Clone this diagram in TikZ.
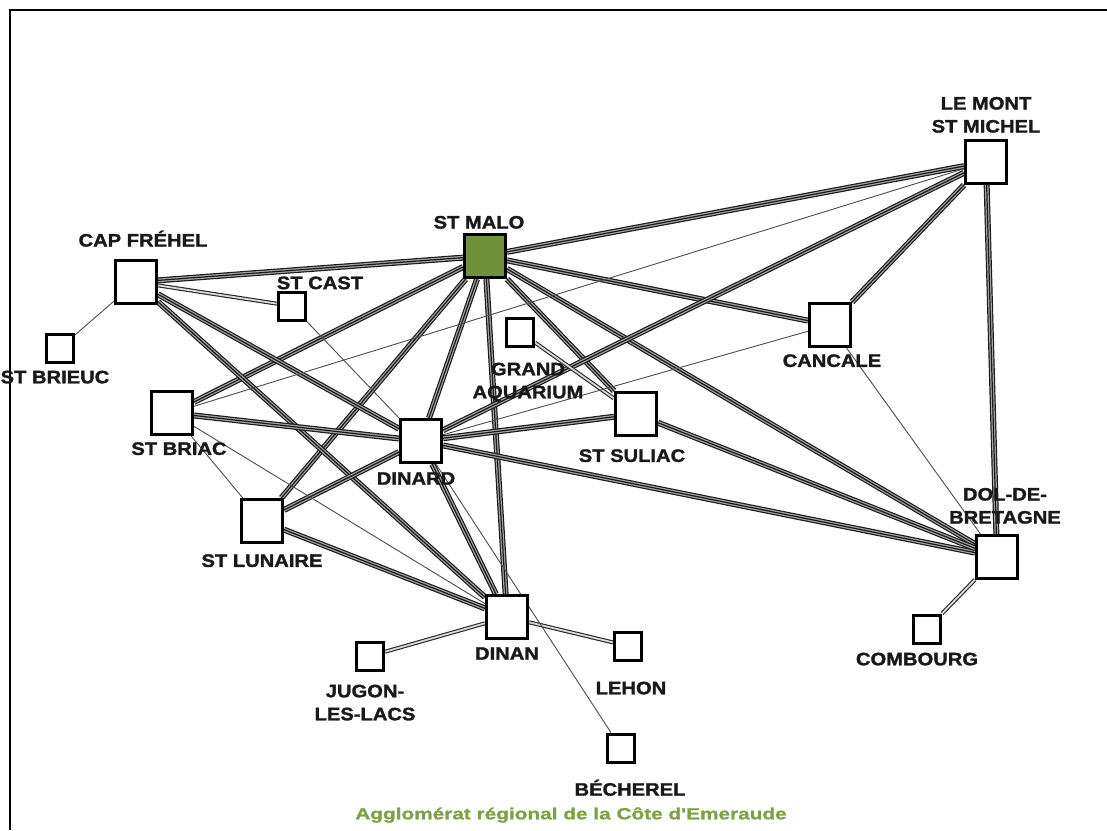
\documentclass[tikz,border=0pt]{standalone}
\usepackage{fontspec}
\newfontfamily\labfont[FakeStretch=1.12,FakeBold=1.6]{Liberation Sans}
\newfontfamily\titrefont[FakeStretch=1.3,FakeBold=1.2]{Liberation Sans}
\usetikzlibrary{positioning}
\pgfdeclarelayer{background}
\pgfsetlayers{background,main}
\definecolor{vertmalo}{RGB}{112,145,58}
\definecolor{verttitre}{RGB}{128,160,68}

\begin{document}
\begin{tikzpicture}[x=1pt,y=-1pt,font={\labfont\bfseries\fontsize{18}{23}\selectfont}]
\tikzset{
  ville/.style={draw,line width=3.2pt,fill=white,minimum width=41pt,minimum height=43pt,inner sep=0pt},
  petite/.style={draw,line width=3pt,fill=white,minimum width=27pt,minimum height=28pt,inner sep=0pt},
  lab/.style={align=center,inner sep=0pt,text=black!90},
  fort/.style={preaction={draw=black!90,line width=6pt},preaction={draw=black!35,line width=3.6pt},draw=black!90,line width=1.2pt},
  moyen/.style={draw=black!85,double=white!85!black,double distance=1.8pt,line width=1.1pt},
  faible/.style={draw=black!70,line width=0.9pt}
}
\useasboundingbox (0,0) rectangle (1107,830);
\draw[line width=2pt](10,830)--(10,10)--(1107,10);
% villes
\node(msm)[ville] at (986,162){};
\node(malo)[ville,fill=vertmalo] at (485,256){};
\node(frehel)[ville] at (136,282){};
\node(cancale)[ville] at (830,325){};
\node(briac)[ville] at (172,413){};
\node(dinard)[ville] at (421,441){};
\node(suliac)[ville] at (636,414){};
\node(lunaire)[ville] at (262,521){};
\node(dol)[ville] at (997,557){};
\node(dinan)[ville] at (507,617){};
\node(cast)[petite] at (292,306){};
\node(brieuc)[petite] at (60,348){};
\node(aquarium)[petite] at (520,332){};
\node(combourg)[petite] at (927,629){};
\node(jugon)[petite] at (370,656){};
\node(lehon)[petite] at (628,646){};
\node(becherel)[petite] at (621,748){};
% noms
\node(lmsm)[lab,above=6pt of msm]{LE MONT\\ST MICHEL};
\node(lmalo)[lab,above=4pt of malo,xshift=-6pt]{ST MALO};
\node(lfrehel)[lab,above=12pt of frehel,xshift=7pt]{CAP FRÉHEL};
\node(lcast)[lab,above=1pt of cast,xshift=28pt]{ST CAST};
\node(lbrieuc)[lab,below=7pt of brieuc,xshift=-5pt]{ST BRIEUC};
\node(laquarium)[lab,below=15pt of aquarium,xshift=8pt]{GRAND\\AQUARIUM};
\node(lcancale)[lab,below=6pt of cancale,xshift=2pt]{CANCALE};
\node(lbriac)[lab,below=6pt of briac,xshift=7pt]{ST BRIAC};
\node(ldinard)[lab,below=8pt of dinard,xshift=-5pt]{DINARD};
\node(lsuliac)[lab,below=12pt of suliac,xshift=-4pt]{ST SULIAC};
\node(llunaire)[lab,below=10pt of lunaire]{ST LUNAIRE};
\node(ldol)[lab,above=10pt of dol,xshift=8pt]{DOL-DE-\\BRETAGNE};
\node(ldinan)[lab,below=7pt of dinan]{DINAN};
\node(lcombourg)[lab,below=8pt of combourg,xshift=-10pt]{COMBOURG};
\node(ljugon)[lab,below=13pt of jugon,xshift=-5pt]{JUGON-\\LES-LACS};
\node(llehon)[lab,below=20pt of lehon,xshift=3pt]{LEHON};
\node(lbecherel)[lab,below=16pt of becherel,xshift=9pt]{BÉCHEREL};
\node(titre)[font={\titrefont\bfseries\fontsize{16}{18}\selectfont},text=verttitre] at (571,815){Agglomérat régional de la Côte d'Emeraude};
% liaisons
\begin{pgfonlayer}{background}
\draw[fort](malo)--(frehel); \draw[fort](malo)--(msm); \draw[fort](malo)--(cancale);
\draw[fort](malo)--(briac); \draw[fort](malo)--(lunaire); \draw[fort](malo)--(dinard);
\draw[fort](malo)--(dinan); \draw[fort](malo)--(suliac); \draw[fort](malo)--(dol);
\draw[fort](frehel)--(dinard); \draw[fort](frehel)--(dinan);
\draw[fort](msm)--(dinard); \draw[fort](msm)--(cancale); \draw[fort](msm)--(dol);
\draw[fort](briac)--(dinard); \draw[fort](lunaire)--(dinard); \draw[fort](lunaire)--(dinan);
\draw[fort](dinard)--(dinan); \draw[fort](dinard)--(dol); \draw[fort](dinard)--(suliac);
\draw[fort](suliac)--(dol);
\draw[moyen](frehel)--(cast); \draw[moyen](jugon)--(dinan); \draw[moyen](dinan)--(lehon);
\draw[moyen](dol)--(combourg); \draw[moyen](aquarium)--(suliac);
\draw[faible](frehel)--(brieuc); \draw[faible](briac)--(msm); \draw[faible](briac)--(dinan);
\draw[faible](briac)--(lunaire); \draw[faible](cast)--(dinard); \draw[faible](dinard)--(becherel);
\draw[faible](dinard)--(cancale); \draw[faible](cancale)--(dol);
\end{pgfonlayer}
\end{tikzpicture}
\end{document}
